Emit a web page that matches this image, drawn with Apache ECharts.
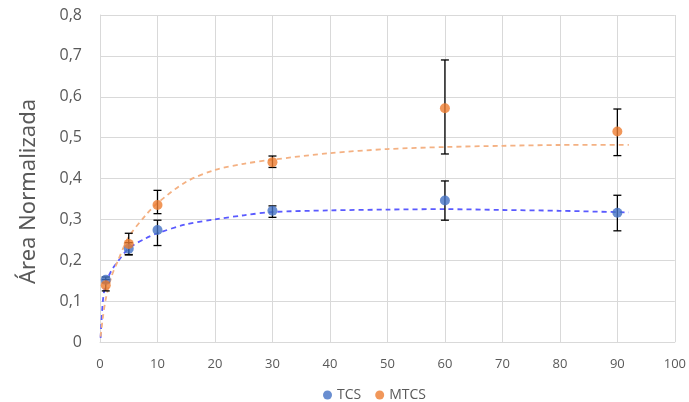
<!DOCTYPE html>
<html>
<head>
<meta charset="utf-8">
<script src="https://cdn.jsdelivr.net/npm/echarts@6/dist/echarts.min.js"></script>
<style>html,body{margin:0;padding:0;background:#fff}#c{width:689px;height:402px}</style>
</head>
<body>
<div id="c"></div>
<script>
const xValues = [1, 5, 10, 30, 60, 90];
const tcsY = [0.152, 0.228, 0.274, 0.321, 0.346, 0.316];
const tcsLow = [0.145, 0.213, 0.236, 0.305, 0.298, 0.272];
const tcsHigh = [0.159, 0.243, 0.298, 0.333, 0.394, 0.359];
const mtcsY = [0.139, 0.240, 0.335, 0.440, 0.572, 0.515];
const mtcsLow = [0.125, 0.214, 0.314, 0.427, 0.460, 0.456];
const mtcsHigh = [0.153, 0.266, 0.371, 0.455, 0.690, 0.570];

const trendX = [0.1, 0.5, 1, 2, 3, 5, 8, 10, 15, 20, 25, 30, 40, 50, 60, 70, 80, 92];
const tcsTrend = [0.01, 0.10, 0.143, 0.175, 0.195, 0.229, 0.254, 0.266, 0.288, 0.300, 0.310, 0.318, 0.322, 0.324, 0.325, 0.323, 0.321, 0.317];
const mtcsTrend = [0.013, 0.06, 0.105, 0.16, 0.195, 0.257, 0.311, 0.340, 0.392, 0.421, 0.436, 0.446, 0.462, 0.472, 0.477, 0.480, 0.482, 0.4825];

const zip = (a, b) => a.map((v, i) => [v, b[i]]);
const errData = (low, high) => xValues.map((x, i) => [x, low[i], high[i]]);

function errRender(params, api) {
  const x = api.value(0);
  const p1 = api.coord([x, api.value(1)]);
  const p2 = api.coord([x, api.value(2)]);
  const w = 4;
  const st = { stroke: '#000', lineWidth: 1.3 };
  return {
    type: 'group',
    children: [
      { type: 'line', shape: { x1: p1[0], y1: p1[1], x2: p2[0], y2: p2[1] }, style: st },
      { type: 'line', shape: { x1: p1[0] - w, y1: p1[1], x2: p1[0] + w, y2: p1[1] }, style: st },
      { type: 'line', shape: { x1: p2[0] - w, y1: p2[1], x2: p2[0] + w, y2: p2[1] }, style: st }
    ]
  };
}

const chart = echarts.init(document.getElementById('c'));
const font = 'Open Sans, Noto Sans, sans-serif';
chart.setOption({
  animation: false,
  grid: { left: 100, right: 14, top: 15, bottom: 60 },
  legend: {
    top: 383, left: 318, itemWidth: 9, itemHeight: 9, itemGap: 14,
    textStyle: { color: '#595959', fontSize: 14, fontFamily: font },
    data: [{ name: 'TCS', icon: 'circle' }, { name: 'MTCS', icon: 'circle' }]
  },
  xAxis: {
    type: 'value', min: 0, max: 100, interval: 10,
    axisLine: { show: true, lineStyle: { color: '#d9d9d9' } },
    axisTick: { show: false },
    axisLabel: { color: '#595959', fontSize: 13, fontFamily: font, margin: 16 },
    splitLine: { lineStyle: { color: '#d9d9d9' } }
  },
  yAxis: {
    type: 'value', min: 0, max: 0.8, interval: 0.1,
    name: 'Área Normalizada', nameLocation: 'middle', nameGap: 60,
    nameTextStyle: { color: '#595959', fontSize: 22, fontFamily: 'Noto Sans, sans-serif', padding: [0, 26, 0, 0] },
    axisLine: { show: true, lineStyle: { color: '#d9d9d9' } },
    axisTick: { show: false },
    axisLabel: { color: '#595959', fontSize: 16, fontFamily: font, margin: 18,
      formatter: v => (Math.round(v * 10) / 10).toString().replace('.', ',') },
    splitLine: { lineStyle: { color: '#d9d9d9' } }
  },
  series: [
    { name: 'tcsTrend', type: 'line', data: zip(trendX, tcsTrend), smooth: 0.3, symbol: 'none',
      lineStyle: { color: '#5a5aff', width: 1.8, type: [5, 4] }, z: 2 },
    { name: 'mtcsTrend', type: 'line', data: zip(trendX, mtcsTrend), smooth: 0.3, symbol: 'none',
      lineStyle: { color: '#f4b183', width: 1.8, type: [5, 4] }, z: 2 },
    { type: 'custom', renderItem: errRender, data: errData(tcsLow, tcsHigh), z: 3 },
    { type: 'custom', renderItem: errRender, data: errData(mtcsLow, mtcsHigh), z: 3 },
    { name: 'TCS', type: 'scatter', data: zip(xValues, tcsY), symbolSize: 10,
      itemStyle: { color: '#4472c4' }, z: 5 },
    { name: 'MTCS', type: 'scatter', data: zip(xValues, mtcsY), symbolSize: 10,
      itemStyle: { color: '#ed7d31' }, z: 6 }
  ]
});
</script>
</body>
</html>
